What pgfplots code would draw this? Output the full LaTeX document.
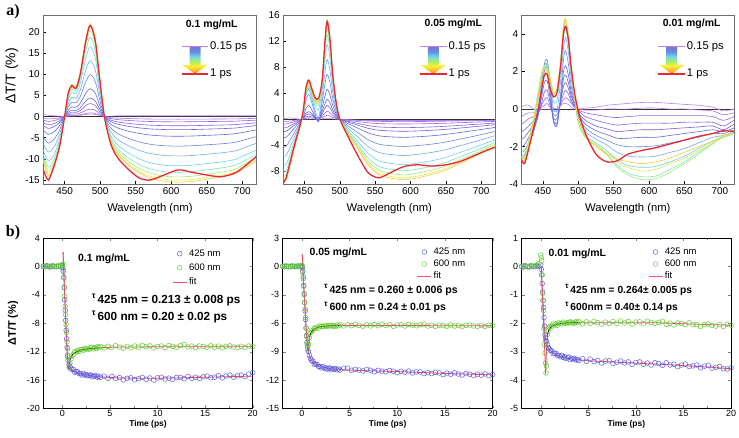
\documentclass[border=0pt]{standalone}
\usepackage{pgfplots}
\usepackage{pgfplotstable}
\usepackage{fontspec}
\setmainfont{Liberation Sans}
\newfontfamily\serifbf{Liberation Serif}
\pgfplotsset{compat=1.18}

\definecolor{k1}{RGB}{185,130,238}
\definecolor{k2}{RGB}{168,115,232}
\definecolor{k3}{RGB}{150,102,228}
\definecolor{k4}{RGB}{130,98,225}
\definecolor{k5}{RGB}{112,98,222}
\definecolor{k6}{RGB}{95,105,222}
\definecolor{k7}{RGB}{100,135,232}
\definecolor{k8}{RGB}{115,172,242}
\definecolor{k9}{RGB}{105,212,240}
\definecolor{k10}{RGB}{120,230,190}
\definecolor{k11}{RGB}{165,235,110}
\definecolor{k12}{RGB}{225,235,70}
\definecolor{k13}{RGB}{250,200,60}
\definecolor{kr}{RGB}{232,40,50}
\definecolor{blueC}{RGB}{95,95,225}
\definecolor{greenC}{RGB}{100,205,50}
\definecolor{fitC}{RGB}{235,75,105}
\definecolor{frameA}{RGB}{110,110,110}
\definecolor{arrViolet}{RGB}{130,110,215}
\definecolor{arrBlue}{RGB}{100,140,225}
\definecolor{arrCyan}{RGB}{120,220,225}
\definecolor{arrGreen}{RGB}{175,240,90}
\definecolor{arrYellow}{RGB}{250,240,60}
\definecolor{arrOrange}{RGB}{250,175,40}
\definecolor{arrRed}{RGB}{230,60,40}
\pgfdeclareverticalshading{rainbowarrow}{100bp}{color(0bp)=(arrRed); color(25bp)=(arrRed); color(30bp)=(arrOrange); color(40bp)=(arrYellow); color(47bp)=(arrGreen); color(56bp)=(arrCyan); color(66bp)=(arrBlue); color(75bp)=(arrViolet); color(100bp)=(arrViolet)}

\pgfplotstableread{
x c1 c2 c3 c4 c5 c6 c7 c8 c9 c10 c11 c12 c13 r
420 0.5 -0.42 -0.84 -1.47 -2.1 -3.15 -4.73 -6.3 -7.88 -8.93 -9.66 -10.19 -10.5 -12.5
427 0.3 -0.56 -1.12 -1.96 -2.8 -4.2 -6.3 -8.4 -10.5 -11.9 -12.88 -13.58 -14 -15
435 0.2 -0.48 -0.96 -1.68 -2.4 -3.6 -5.4 -7.2 -9 -10.2 -11.04 -11.64 -12 -11.7
443 0.1 -0.28 -0.56 -0.98 -1.4 -2.1 -3.15 -4.2 -5.25 -5.95 -6.44 -6.79 -7 -7
450 0 0 0 0 0 0 0 0 0 0 0 0 0 0
455 0.1 0.2 0.4 0.7 1.0 1.5 2.25 3 3.75 4.25 4.6 4.85 5 5.5
460 0.2 0.3 0.61 1.06 1.52 2.28 3.42 4.56 5.7 6.46 6.99 7.37 7.6 7.3
466 0.2 0.29 0.58 1.01 1.44 2.16 3.24 4.32 5.4 6.12 6.62 6.98 7.2 6.7
472 0.3 0.42 0.84 1.47 2.1 3.15 4.73 6.3 7.88 8.93 9.66 10.19 10.5 10
480 0.5 0.74 1.48 2.59 3.7 5.55 8.33 11.1 13.88 15.73 17.02 17.95 18.5 18
486 0.6 0.88 1.76 3.08 4.4 6.6 9.9 13.2 16.5 18.7 20.24 21.34 22 21.5
493 0.5 0.74 1.48 2.59 3.7 5.55 8.33 11.1 13.88 15.73 17.02 17.95 18.5 18
499 0.3 0.38 0.76 1.33 1.9 2.85 4.28 5.7 7.13 8.08 8.74 9.22 9.5 9.5
506 0.1 0 0 0 0 0 0 0 0 0 0 0 0 0
515 0.1 -0.24 -0.48 -0.84 -1.2 -1.8 -2.7 -3.6 -4.5 -5.1 -5.52 -5.82 -6 -6.5
525 0.2 -0.36 -0.72 -1.26 -1.8 -2.7 -4.05 -5.4 -6.75 -7.65 -8.28 -8.73 -9 -9.8
540 0.2 -0.46 -0.92 -1.61 -2.3 -3.45 -5.18 -6.9 -8.63 -9.78 -10.58 -11.16 -11.5 -12.5
555 0.2 -0.53 -1.06 -1.86 -2.66 -3.99 -5.99 -7.98 -9.98 -11.31 -12.24 -12.9 -13.3 -14.5
570 0.2 -0.58 -1.16 -2.03 -2.9 -4.35 -6.53 -8.7 -10.88 -12.33 -13.34 -14.07 -14.5 -15
590 0.2 -0.61 -1.22 -2.14 -3.06 -4.59 -6.89 -9.18 -11.48 -13.01 -14.08 -14.84 -15.3 -13.8
610 0.2 -0.62 -1.24 -2.17 -3.1 -4.65 -6.98 -9.3 -11.63 -13.18 -14.26 -15.04 -15.5 -12.6
630 0.2 -0.61 -1.22 -2.14 -3.06 -4.59 -6.89 -9.18 -11.48 -13.01 -14.08 -14.84 -15.3 -13.2
650 0.2 -0.59 -1.18 -2.07 -2.96 -4.44 -6.66 -8.88 -11.1 -12.58 -13.62 -14.36 -14.8 -13.8
670 0.2 -0.57 -1.14 -2.0 -2.86 -4.29 -6.44 -8.58 -10.73 -12.16 -13.16 -13.87 -14.3 -14.2
690 0.2 -0.54 -1.08 -1.89 -2.7 -4.05 -6.08 -8.1 -10.13 -11.48 -12.42 -13.1 -13.5 -13.3
705 0.2 -0.48 -0.96 -1.68 -2.4 -3.6 -5.4 -7.2 -9 -10.2 -11.04 -11.64 -12 -11.5
720 0.2 -0.42 -0.84 -1.47 -2.1 -3.15 -4.73 -6.3 -7.88 -8.93 -9.66 -10.19 -10.5 -9.4
}\tAa

\pgfplotstableread{
x c1 c2 c3 c4 c5 c6 c7 c8 c9 c10 c11 c12 c13 r
420 0.1 -0.38 -0.76 -1.33 -1.9 -2.85 -4.28 -5.7 -7.13 -8.08 -8.74 -9.22 -9.5 -9.8
424 0.1 -0.37 -0.74 -1.3 -1.86 -2.79 -4.19 -5.58 -6.98 -7.91 -8.56 -9.02 -9.3 -9.0
430 0.2 -0.28 -0.56 -0.98 -1.4 -2.1 -3.15 -4.2 -5.25 -5.95 -6.44 -6.79 -7 -6.5
437 0.1 -0.16 -0.32 -0.56 -0.8 -1.2 -1.8 -2.4 -3.0 -3.4 -3.68 -3.88 -4 -3.5
443 0 -0.06 -0.12 -0.21 -0.3 -0.45 -0.68 -0.9 -1.13 -1.28 -1.38 -1.46 -1.5 -1.2
448 0 0.04 0.08 0.14 0.2 0.3 0.6 0.7 0.75 0.85 0.92 0.97 1 1.2
452 0.05 0.18 0.36 0.63 0.9 1.6 2.9 3.6 3.9 4.0 4.2 4.37 4.5 4.8
456 0.06 0.23 0.46 0.8 1.14 2.1 3.8 4.6 4.8 5.0 5.3 5.53 5.7 6.0
460 0.05 0.18 0.36 0.63 0.9 1.5 2.7 3.3 3.6 3.9 4.1 4.37 4.5 4.8
465 0.03 0.12 0.24 0.2 0.3 0.4 0.8 1.3 2.0 2.4 2.7 2.91 3 3.3
470 0.03 0.11 0.22 -0.1 -0.2 -0.3 -0.4 0.3 1.5 2.2 2.5 2.72 2.8 3.2
475 0.06 0.24 0.48 0.84 1.2 1.8 2.7 3.6 4.5 5.1 5.52 5.82 6 6.0
479 0.12 0.48 0.96 1.68 2.4 3.6 5.4 7.2 9.0 10.2 11.04 11.64 12 12.0
482 0.15 0.61 1.22 2.14 3.06 4.59 6.89 9.18 11.48 13.01 14.08 14.84 15.3 15.0
486 0.12 0.5 1.0 1.75 2.5 3.75 5.63 7.5 9.38 10.63 11.5 12.13 12.5 12.3
490 0.07 0.28 0.56 0.98 1.4 2.1 3.15 4.2 5.25 5.95 6.44 6.79 7 6.8
495 0.02 0.1 0.2 0.35 0.5 0.75 1.13 1.5 1.88 2.13 2.3 2.43 2.5 2.4
500 0 0 0 0 0 0 0 0 0 0 0 0 0 0
510 -0.1 -0.08 -0.16 -0.28 -0.4 -0.6 -0.9 -1.2 -1.5 -1.7 -1.84 -1.94 -2 -2.3
525 -0.15 -0.18 -0.36 -0.63 -0.9 -1.35 -2.03 -2.7 -3.38 -3.83 -4.14 -4.37 -4.5 -5.5
540 -0.2 -0.28 -0.56 -0.98 -1.4 -2.1 -3.15 -4.2 -5.25 -5.95 -6.44 -6.79 -7 -8.2
555 -0.2 -0.34 -0.68 -1.19 -1.7 -2.55 -3.83 -5.1 -6.38 -7.23 -7.82 -8.25 -8.5 -9.0
570 -0.2 -0.36 -0.72 -1.26 -1.8 -2.7 -4.05 -5.4 -6.75 -7.65 -8.28 -8.73 -9 -8.3
590 -0.2 -0.37 -0.74 -1.3 -1.86 -2.79 -4.19 -5.58 -6.98 -7.91 -8.56 -9.02 -9.3 -7.3
610 -0.2 -0.36 -0.72 -1.26 -1.8 -2.7 -4.05 -5.4 -6.75 -7.65 -8.28 -8.73 -9 -7.0
630 -0.2 -0.34 -0.68 -1.19 -1.7 -2.55 -3.83 -5.1 -6.38 -7.23 -7.82 -8.25 -8.5 -7.2
650 -0.2 -0.31 -0.62 -1.09 -1.56 -2.34 -3.51 -4.68 -5.85 -6.63 -7.18 -7.57 -7.8 -7.0
670 -0.2 -0.27 -0.54 -0.95 -1.36 -2.04 -3.06 -4.08 -5.1 -5.78 -6.26 -6.6 -6.8 -6.5
690 -0.2 -0.23 -0.46 -0.81 -1.16 -1.74 -2.61 -3.48 -4.35 -4.93 -5.34 -5.63 -5.8 -5.6
705 -0.2 -0.2 -0.4 -0.7 -1.0 -1.5 -2.25 -3.0 -3.75 -4.25 -4.6 -4.85 -5 -4.9
720 -0.15 -0.17 -0.34 -0.59 -0.84 -1.26 -1.89 -2.52 -3.15 -3.57 -3.86 -4.07 -4.2 -4.3
}\tAb

\pgfplotstableread{
x c1 c2 c3 c4 c5 c6 c7 c8 c9 c10 c11 c12 c13 r
420 0.1 -0.4 -0.8 -1.2 -1.6 -2.0 -2.3 -2.5 -2.6 -2.6 -2.5 -2.6 -2.7 -2.7
424 0.2 -0.3 -0.7 -1.1 -1.5 -1.9 -2.2 -2.4 -2.5 -2.6 -2.6 -2.7 -2.8 -2.9
430 0.2 -0.2 -0.5 -0.9 -1.2 -1.5 -1.8 -1.9 -1.8 -1.7 -1.6 -1.8 -1.9 -2.1
437 0 -0.2 -0.4 -0.6 -0.8 -1.0 -1.2 -1.0 -0.8 -0.6 -0.4 -0.5 -0.6 -1.0
443 -0.1 -0.1 -0.2 -0.3 -0.3 -0.4 -0.3 0 0.4 0.7 0.9 0.8 0.6 -0.1
448 0 0.1 0.2 0.3 0.6 0.9 1.3 1.4 1.6 1.8 1.9 1.8 1.7 1.0
452 0 0.2 0.5 0.9 1.4 2.0 2.4 2.3 2.3 2.3 2.3 2.2 2.1 1.8
456 0 0.3 0.6 1.0 1.5 2.2 2.6 2.4 2.35 2.3 2.2 2.1 2.0 1.85
460 0 0.1 0.2 0.4 0.6 1.0 1.4 1.5 1.6 1.7 1.7 1.6 1.4 1.1
465 0 -0.1 -0.3 -0.5 -0.6 -0.7 -0.6 0.0 0.4 0.7 0.9 0.9 0.8 0.65
470 0.05 -0.1 -0.3 -0.5 -0.7 -0.8 -0.85 0.0 0.5 0.9 1.1 1.1 1.1 0.9
475 0.2 0.2 0.3 0.4 0.4 0.6 0.8 1.5 2.0 2.4 2.6 2.6 2.5 2.3
479 0.3 0.5 0.8 1.2 1.6 2.0 2.6 3.2 3.8 4.2 4.4 4.4 4.3 4.0
482 0.3 0.6 1.0 1.4 1.8 2.3 3.1 3.8 4.3 4.7 4.8 4.8 4.7 4.4
486 0.25 0.5 0.8 1.1 1.4 1.8 2.4 3.0 3.4 3.7 3.9 3.9 3.8 3.7
490 0.1 0.3 0.4 0.5 0.7 0.9 1.2 1.6 1.8 2.0 2.1 2.1 2.0 2.2
495 0 0.1 0.1 0.1 0.2 0.2 0.3 0.4 0.5 0.5 0.6 0.6 0.5 0.8
500 0 0 -0.05 -0.1 -0.2 -0.3 -0.4 -0.5 -0.6 -0.7 -0.7 -0.6 -0.5 -0.1
510 0.05 -0.05 -0.2 -0.4 -0.6 -0.8 -1.0 -1.2 -1.4 -1.5 -1.5 -1.5 -1.5 -1.3
525 0.1 -0.05 -0.3 -0.6 -0.9 -1.15 -1.4 -1.6 -1.8 -1.9 -1.9 -1.9 -2.0 -2.4
540 0.2 0 -0.4 -0.75 -1.05 -1.35 -1.65 -1.9 -2.2 -2.4 -2.4 -2.3 -2.4 -2.8
555 0.25 0 -0.45 -0.85 -1.2 -1.55 -1.9 -2.3 -2.7 -3.0 -3.1 -2.8 -2.65 -2.75
570 0.3 0 -0.4 -0.8 -1.15 -1.55 -2.0 -2.5 -3.0 -3.4 -3.5 -3.1 -2.8 -2.4
590 0.35 0.05 -0.35 -0.75 -1.1 -1.5 -2.0 -2.55 -3.1 -3.6 -3.75 -3.3 -2.9 -2.2
610 0.35 0.05 -0.35 -0.75 -1.1 -1.5 -1.95 -2.5 -3.05 -3.55 -3.7 -3.2 -2.8 -2.05
630 0.3 0 -0.35 -0.75 -1.05 -1.4 -1.8 -2.3 -2.8 -3.2 -3.35 -2.9 -2.6 -1.85
650 0.25 0 -0.35 -0.7 -1.0 -1.3 -1.65 -2.1 -2.5 -2.8 -2.9 -2.6 -2.3 -1.65
670 0.2 -0.05 -0.35 -0.7 -0.95 -1.2 -1.5 -1.8 -2.1 -2.3 -2.4 -2.2 -2.0 -1.45
690 0.1 -0.1 -0.4 -0.7 -0.9 -1.1 -1.3 -1.5 -1.7 -1.8 -1.85 -1.8 -1.7 -1.3
705 -0.1 -0.3 -0.6 -0.9 -1.1 -1.2 -1.3 -1.4 -1.5 -1.5 -1.5 -1.45 -1.4 -1.15
720 0 -0.2 -0.4 -0.6 -0.8 -1.0 -1.1 -1.2 -1.3 -1.3 -1.3 -1.3 -1.25 -1.2
}\tAc

\pgfplotstableread{
t b g
-2.0 0.05 -0.05
-1.8 -0.05 0.08
-1.6 0.08 0.0
-1.4 0.0 -0.06
-1.2 -0.08 0.05
-1.0 0.05 0.1
-0.8 0.0 -0.04
-0.6 -0.05 0.06
-0.4 0.06 0.0
-0.2 -0.03 0.08
0.0 0.1 0.25
0.05 -0.2 0.3
0.1 -0.7 -0.5
0.15 -1.6 -1.5
0.2 -3.0 -2.9
0.25 -4.7 -4.2
0.3 -6.2 -5.6
0.35 -7.6 -6.8
0.4 -9.0 -8.2
0.45 -10.2 -9.3
0.5 -11.4 -10.6
0.55 -12.5 -11.6
0.6 -13.2 -12.8
0.7 -13.8 -14.2
0.8 -14.1 -13.6
0.9 -14.3 -13.0
1.0 -14.5 -12.6
1.15 -14.5 -12.4
1.3 -14.9 -11.98
1.45 -14.8 -12.05
1.6 -14.83 -11.82
1.75 -15.08 -11.98
1.9 -15.1 -11.7
2.05 -15.27 -11.7
2.2 -15.05 -11.79
2.35 -15.3 -11.51
2.5 -15.22 -11.64
2.65 -15.4 -11.53
2.8 -15.32 -11.67
2.95 -15.27 -11.45
3.1 -15.54 -11.39
3.25 -15.39 -11.58
3.4 -15.47 -11.43
3.55 -15.4 -11.59
3.7 -15.59 -11.31
3.85 -15.46 -11.43
4.0 -15.61 -11.28
4.4 -15.45 -11.47
4.8 -15.75 -11.25
5.2 -15.5 -11.4
5.6 -15.75 -11.17
6.0 -15.65 -11.35
6.4 -15.98 -11.5
6.8 -15.75 -11.27
7.2 -15.68 -11.45
7.6 -15.95 -11.21
8.0 -15.8 -11.36
8.4 -15.62 -11.1
8.8 -15.88 -11.32
9.2 -15.7 -11.18
9.6 -16.0 -11.48
10.0 -15.69 -11.25
10.4 -15.61 -11.2
10.8 -15.85 -11.42
11.2 -15.73 -11.14
11.6 -15.91 -11.26
12.0 -15.63 -11.38
12.4 -15.62 -11.15
12.8 -15.82 -11.0
13.2 -15.5 -11.35
13.6 -15.74 -11.22
14.0 -15.6 -11.44
14.4 -15.75 -11.2
14.8 -15.55 -11.28
15.2 -15.44 -11.4
15.6 -15.68 -11.18
16.0 -15.6 -11.36
16.4 -15.38 -11.22
16.8 -15.68 -11.46
17.2 -15.42 -11.25
17.6 -15.3 -11.18
18.0 -15.6 -11.34
18.4 -15.41 -11.4
18.8 -15.3 -11.24
19.2 -15.51 -11.42
19.6 -15.15 -11.2
20.0 -14.95 -11.3
}\tBa

\pgfplotstableread{
t b g
-2.0 0.03 -0.03
-1.8 -0.03 0.04
-1.6 0.04 0.0
-1.4 0.0 -0.04
-1.2 -0.04 0.03
-1.0 0.03 0.05
-0.8 0.0 -0.02
-0.6 -0.03 0.04
-0.4 0.04 0.0
-0.2 -0.02 0.05
0.0 0.05 0.1
0.05 -0.1 0.1
0.1 -0.5 -0.6
0.15 -1.1 -1.3
0.2 -2.0 -2.1
0.25 -2.9 -3.0
0.3 -3.8 -3.8
0.35 -4.7 -4.5
0.4 -5.6 -5.4
0.45 -6.5 -6.5
0.5 -7.3 -7.4
0.55 -8.0 -8.2
0.6 -8.5 -8.8
0.7 -9.0 -8.2
0.8 -9.4 -7.5
0.9 -9.7 -7.0
1.0 -9.9 -6.8
1.15 -10.0 -6.77
1.3 -10.31 -6.52
1.45 -10.3 -6.53
1.6 -10.35 -6.4
1.75 -10.56 -6.49
1.9 -10.57 -6.28
2.05 -10.71 -6.33
2.2 -10.57 -6.37
2.35 -10.74 -6.21
2.5 -10.69 -6.33
2.65 -10.84 -6.24
2.8 -10.77 -6.36
2.95 -10.72 -6.24
3.1 -10.91 -6.2
3.25 -10.79 -6.31
3.4 -10.85 -6.25
3.55 -10.78 -6.34
3.7 -10.92 -6.19
3.85 -10.84 -6.27
4.0 -10.95 -6.17
4.4 -10.75 -6.29
4.8 -10.74 -6.16
5.2 -10.97 -6.25
5.6 -10.86 -6.11
6.0 -10.94 -6.22
6.4 -11.04 -6.31
6.8 -10.87 -6.17
7.2 -10.96 -6.28
7.6 -11.13 -6.14
8.0 -10.97 -6.26
8.4 -11.05 -6.10
8.8 -11.12 -6.23
9.2 -10.98 -6.15
9.6 -11.07 -6.33
10.0 -11.21 -6.19
10.4 -11.07 -6.16
10.8 -11.17 -6.29
11.2 -11.04 -6.12
11.6 -11.25 -6.20
12.0 -11.14 -6.27
12.4 -11.14 -6.17
12.8 -11.32 -6.08
13.2 -11.23 -6.29
13.6 -11.31 -6.21
14.0 -11.19 -6.34
14.4 -11.25 -6.20
14.8 -11.42 -6.25
15.2 -11.26 -6.32
15.6 -11.38 -6.19
16.0 -11.24 -6.30
16.4 -11.36 -6.21
16.8 -11.47 -6.36
17.2 -11.32 -6.23
17.6 -11.38 -6.19
18.0 -11.53 -6.28
18.4 -11.38 -6.32
18.8 -11.48 -6.22
19.2 -11.35 -6.33
19.6 -11.54 -6.20
20.0 -11.41 -6.26
}\tBb

\pgfplotstableread{
t b g
-2.0 0.01 -0.02
-1.8 -0.02 0.02
-1.6 0.02 0.0
-1.4 0.0 -0.02
-1.2 -0.02 0.01
-1.0 0.02 0.03
-0.8 0.0 -0.01
-0.6 -0.01 0.02
-0.4 0.02 0.05
-0.2 0.0 0.1
0.0 0.05 0.4
0.05 -0.1 0.3
0.1 -0.3 0.2
0.15 -0.6 -0.3
0.2 -0.9 -0.95
0.25 -1.2 -1.2
0.3 -1.45 -1.55
0.35 -1.8 -2.2
0.4 -2.1 -2.75
0.45 -2.4 -3.05
0.5 -2.5 -3.4
0.55 -2.6 -3.75
0.6 -2.65 -3.5
0.7 -2.75 -2.4
0.8 -2.85 -2.25
0.9 -2.9 -2.15
1.0 -2.95 -2.1
1.15 -2.97 -2.11
1.3 -3.07 -2.03
1.45 -3.05 -2.06
1.6 -3.06 -2.02
1.75 -3.13 -2.07
1.9 -3.13 -1.99
2.05 -3.18 -2.01
2.2 -3.13 -2.02
2.35 -3.2 -1.96
2.5 -3.18 -2.0
2.65 -3.24 -1.97
2.8 -3.21 -2.01
2.95 -3.19 -1.97
3.1 -3.28 -1.95
3.25 -3.23 -1.99
3.4 -3.26 -1.97
3.55 -3.24 -2.01
3.7 -3.29 -1.95
3.85 -3.27 -1.98
4.0 -3.31 -1.94
4.4 -3.25 -2.02
4.8 -3.34 -1.95
5.2 -3.26 -2.0
5.6 -3.35 -1.93
6.0 -3.31 -1.98
6.4 -3.40 -2.03
6.8 -3.33 -1.96
7.2 -3.32 -2.01
7.6 -3.42 -1.94
8.0 -3.37 -2.0
8.4 -3.33 -1.92
8.8 -3.40 -1.99
9.2 -3.36 -1.94
9.6 -3.45 -2.03
10.0 -3.38 -1.96
10.4 -3.36 -1.95
10.8 -3.44 -2.02
11.2 -3.40 -1.93
11.6 -3.47 -1.97
12.0 -3.39 -2.0
12.4 -3.42 -1.97
12.8 -3.48 -1.93
13.2 -3.39 -2.04
13.6 -3.47 -2.0
14.0 -3.44 -2.06
14.4 -3.53 -1.99
14.8 -3.47 -2.01
15.2 -3.44 -2.05
15.6 -3.52 -1.98
16.0 -3.50 -2.04
16.4 -3.47 -2.05
16.8 -3.57 -2.12
17.2 -3.51 -2.05
17.6 -3.48 -2.03
18.0 -3.58 -2.08
18.4 -3.55 -2.1
18.8 -3.52 -2.05
19.2 -3.60 -2.11
19.6 -3.61 -2.04
20.0 -3.57 -2.07
}\tBc

\pgfplotsset{
  apanel/.style={anchor=south west, scale only axis, height=169.3bp,
    xmin=420, xmax=720, xtick={450,500,...,700},
    axis line style={draw=frameA, line width=0.6bp},
    tick align=inside, xtick pos=left, ytick pos=left,
    major tick length=3bp, tick style={draw=black, line width=0.5bp},
    tick label style={font=\fontsize{10}{12}\selectfont},
    /pgf/number format/assume math mode=true,
    xlabel={Wavelength (nm)},
    xlabel style={font=\fontsize{11.3}{13}\selectfont, at={(axis description cs:0.5,0)}, anchor=center, yshift=-24.7bp},
    every axis plot/.append style={smooth, line width=0.6bp}},
  bpanel/.style={anchor=south west, scale only axis, height=170.5bp,
    xmin=-2, xmax=20, xtick={0,5,...,20}, minor x tick num=1,
    tick align=inside, xtick pos=both, ytick pos=both,
    major tick length=3bp, minor tick length=2bp,
    axis line style={line width=0.7bp},
    tick label style={font=\fontsize{9}{10}\selectfont},
    x tick label style={yshift=1.5bp},
    /pgf/number format/assume math mode=true,
    xlabel={Time (ps)},
    xlabel style={font=\fontsize{8.5}{10}\selectfont\bfseries, at={(axis description cs:0.5,0)}, anchor=center, yshift=-15.5bp},
    legend style={draw=none, fill=none, font=\fontsize{9.5}{10}\selectfont, anchor=north west, cells={anchor=west}, inner sep=0pt},
    legend image code/.code={\draw[mark repeat=2,mark phase=2,##1] plot coordinates {(0bp,0bp) (7bp,0bp) (14bp,0bp)};}},
  bmark/.style={only marks, mark=o, mark size=2.4bp, line width=0.5bp},
  fitline/.style={fitC, line width=0.8bp},
}

\newcommand{\gradarrow}[2]{%
  \shade[shading=rainbowarrow] ({#1bp-5.5bp},391.3bp) -- ({#1bp+5.5bp},391.3bp) -- ({#1bp+5.5bp},373bp) -- ({#1bp+12.5bp},373bp) -- (#1bp,364bp) -- ({#1bp-12.5bp},373bp) -- ({#1bp-5.5bp},373bp) -- cycle;
  \draw[k1, line width=1.2bp] ({#1bp-13.3bp},391.3bp) -- ({#1bp+13.3bp},391.3bp);
  \draw[kr, line width=1.2bp] ({#1bp-13.3bp},364bp) -- ({#1bp+13.3bp},364bp);
  \node[anchor=west, inner sep=0pt, font=\fontsize{11.3}{13}\selectfont] at (#2bp,391.3bp) {0.15 ps};
  \node[anchor=west, inner sep=0pt, font=\fontsize{11.3}{13}\selectfont] at (#2bp,364bp) {1 ps};
}

\newcommand{\aplots}[1]{%
  \addplot[draw=gray!40!black, line width=0.8bp, sharp plot] coordinates {(420,0) (720,0)};
  \pgfplotsinvokeforeach{1,...,13}{\addplot[k##1] table[x=x, y=c##1] {#1};}
  \addplot[kr, line width=1.3bp] table[x=x, y=r] {#1};
}

\begin{document}
\begin{tikzpicture}
\path[use as bounding box] (0,0) rectangle (739bp,438bp);

% ---------------- a panels
\begin{axis}[apanel, at={(43.3bp,253.7bp)}, width=213.2bp,
  ymin=-16, ymax=24, ytick={-15,-10,...,20},
  ylabel={ΔT/T (\%)},
  ylabel style={font=\fontsize{14}{16}\selectfont, at={(axis description cs:-0.148,0.64)}, anchor=center}]
\aplots{\tAa}
\end{axis}

\begin{axis}[apanel, at={(283.3bp,253.7bp)}, width=212bp,
  ymin=-10, ymax=16, ytick={-8,-4,...,16}]
\aplots{\tAb}
\end{axis}

\begin{axis}[apanel, at={(521.7bp,253.7bp)}, width=212.3bp,
  ymin=-4, ymax=5, ytick={-4,-2,...,4}]
\aplots{\tAc}
\end{axis}

% ---------------- b panels
\begin{axis}[bpanel, at={(43.3bp,29.5bp)}, width=209.4bp,
  ymin=-20, ymax=4, ytick={-20,-16,...,4},
  ylabel={ΔT/T (\%)},
  ylabel style={font=\fontsize{11}{12}\selectfont\bfseries, at={(axis description cs:-0.145,0.5)}, anchor=center},
  legend style={at={(axis description cs:0.615,0.945)}, row sep=2bp}]
\addplot[bmark, blueC] table[x=t, y=b] {\tBa};
\addlegendentry{425 nm}
\addplot[bmark, greenC] table[x=t, y=g] {\tBa};
\addlegendentry{600 nm}
\addplot[fitline] coordinates {(0.08,2.0) (0.2,-2.5) (0.3,-5.8) (0.4,-9.0) (0.5,-11.8) (0.6,-13.6) (0.8,-14.3) (1.0,-14.6) (1.5,-14.95) (2,-15.15) (3,-15.4) (4,-15.55) (6,-15.7) (9,-15.75) (12,-15.7) (15,-15.6) (18,-15.5) (20,-15.45)};
\addlegendentry{fit}
\addplot[fitline, forget plot] coordinates {(0.08,2.0) (0.2,-2.5) (0.3,-5.8) (0.4,-9.0) (0.5,-12.0) (0.6,-14.3) (0.65,-14.5) (0.75,-13.6) (0.9,-12.8) (1.1,-12.35) (1.5,-11.95) (2,-11.75) (3,-11.55) (4,-11.45) (6,-11.35) (10,-11.32) (20,-11.3)};
\addplot[black, line width=0.7bp, forget plot] coordinates {(0.8,-13.1) (1.0,-12.5) (1.5,-12.0) (2,-11.75) (3,-11.55) (3.9,-11.45)};
\end{axis}

\begin{axis}[bpanel, at={(282.7bp,29.5bp)}, width=210bp,
  ymin=-15, ymax=3, ytick={-15,-12,...,3},
  legend style={at={(axis description cs:0.638,0.955)}, row sep=0bp}]
\addplot[bmark, blueC] table[x=t, y=b] {\tBb};
\addlegendentry{425 nm}
\addplot[bmark, greenC] table[x=t, y=g] {\tBb};
\addlegendentry{600 nm}
\addplot[fitline] coordinates {(0.05,1.3) (0.15,-1.1) (0.3,-3.8) (0.45,-6.5) (0.6,-8.5) (0.8,-9.4) (1.0,-9.9) (1.5,-10.35) (2,-10.6) (3,-10.8) (5,-10.95) (10,-11.1) (15,-11.3) (20,-11.45)};
\addlegendentry{fit}
\addplot[fitline, forget plot] coordinates {(0.05,1.3) (0.15,-1.2) (0.3,-3.8) (0.45,-6.5) (0.6,-8.8) (0.65,-9.0) (0.75,-8.0) (0.9,-7.2) (1.1,-6.8) (1.5,-6.5) (2,-6.35) (3,-6.27) (5,-6.23) (10,-6.24) (20,-6.28)};
\addplot[black, line width=0.7bp, forget plot] coordinates {(0.8,-7.4) (1.0,-6.9) (1.5,-6.5) (2,-6.35) (3,-6.27) (3.9,-6.24)};
\end{axis}

\begin{axis}[bpanel, at={(521.7bp,29.5bp)}, width=209.3bp,
  ymin=-5, ymax=1, ytick={-5,-4,...,1},
  legend style={at={(axis description cs:0.603,0.955)}, row sep=0bp}]
\addplot[bmark, blueC] table[x=t, y=b] {\tBc};
\addlegendentry{425 nm}
\addplot[bmark, greenC] table[x=t, y=g] {\tBc};
\addlegendentry{600 nm}
\addplot[fitline] coordinates {(0.05,0.0) (0.2,-1.0) (0.35,-2.0) (0.45,-2.45) (0.6,-2.72) (0.8,-2.87) (1.2,-3.03) (2,-3.17) (3,-3.25) (5,-3.32) (8,-3.37) (11,-3.42) (14,-3.47) (17,-3.53) (20,-3.6)};
\addlegendentry{fit}
\addplot[fitline, forget plot] coordinates {(0.05,0.0) (0.52,-3.8) (0.6,-3.0) (0.7,-2.45) (0.9,-2.2) (1.2,-2.08) (2,-2.0) (5,-1.98) (12,-1.98) (16,-2.03) (20,-2.07)};
\addplot[black, line width=0.7bp, forget plot] coordinates {(0.7,-2.4) (0.9,-2.2) (1.2,-2.08) (2,-2.01) (3,-1.98) (3.9,-1.97)};
\end{axis}

% ---------------- annotations
\node[font=\serifbf\bfseries\fontsize{16}{18}\selectfont] at (13bp,426.5bp) {a)};
\node[font=\serifbf\bfseries\fontsize{16}{18}\selectfont] at (13bp,205bp) {b)};

\node[font=\bfseries\fontsize{10.5}{12}\selectfont] at (211.7bp,413bp) {0.1 mg/mL};
\node[font=\bfseries\fontsize{10.5}{12}\selectfont] at (453.3bp,414bp) {0.05 mg/mL};
\node[font=\bfseries\fontsize{10.5}{12}\selectfont] at (691.7bp,414bp) {0.01 mg/mL};
\gradarrow{195}{210}
\gradarrow{433.3}{448.3}
\gradarrow{671.7}{686.7}

\node[font=\bfseries\fontsize{10.5}{12}\selectfont] at (104bp,179.3bp) {0.1 mg/mL};
\node[font=\bfseries\fontsize{10.5}{12}\selectfont] at (338.3bp,184.7bp) {0.05 mg/mL};
\node[font=\bfseries\fontsize{10.5}{12}\selectfont] at (577.3bp,183.7bp) {0.01 mg/mL};

\node[anchor=west, inner sep=0pt, font=\bfseries\fontsize{11.8}{13}\selectfont] at (91.7bp,138bp) {\raisebox{0.4em}{\fontsize{8.5}{9}\selectfont τ}\,425 nm = 0.213 ± 0.008 ps};
\node[anchor=west, inner sep=0pt, font=\bfseries\fontsize{11.8}{13}\selectfont] at (91.7bp,121.3bp) {\raisebox{0.4em}{\fontsize{8.5}{9}\selectfont τ}\,600 nm = 0.20 ± 0.02 ps};
\node[anchor=west, inner sep=0pt, font=\bfseries\fontsize{10.6}{12}\selectfont] at (324bp,148bp) {\raisebox{0.4em}{\fontsize{8}{8}\selectfont τ}\,425 nm = 0.260 ± 0.006 ps};
\node[anchor=west, inner sep=0pt, font=\bfseries\fontsize{10.6}{12}\selectfont] at (324bp,130.7bp) {\raisebox{0.4em}{\fontsize{8}{8}\selectfont τ}\,600 nm = 0.24 ± 0.01 ps};
\node[anchor=west, inner sep=0pt, font=\bfseries\fontsize{10.3}{12}\selectfont] at (565bp,148bp) {\raisebox{0.4em}{\fontsize{8}{8}\selectfont τ}\,425 nm = 0.264± 0.005 ps};
\node[anchor=west, inner sep=0pt, font=\bfseries\fontsize{10.3}{12}\selectfont] at (565bp,130.7bp) {\raisebox{0.4em}{\fontsize{8}{8}\selectfont τ}\,600nm = 0.40± 0.14 ps};
\end{tikzpicture}
\end{document}
